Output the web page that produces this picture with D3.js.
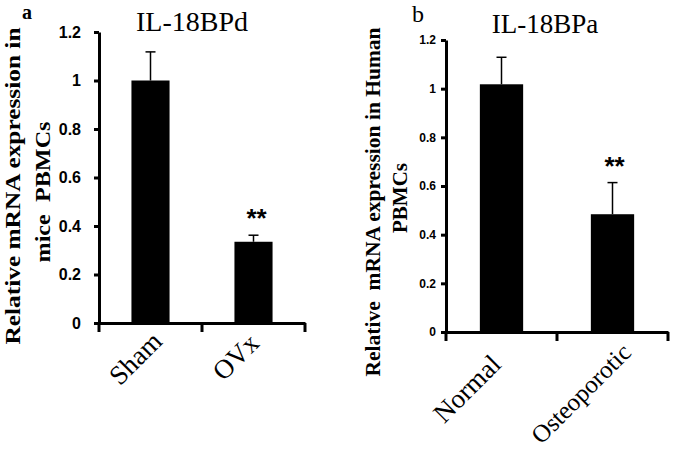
<!DOCTYPE html>
<html><head><meta charset="utf-8">
<script src="https://cdn.jsdelivr.net/npm/d3@7"></script>
<style>
html,body{margin:0;padding:0;background:#fff;}
svg{display:block;}
</style></head>
<body>
<svg id="chart" width="675" height="450"></svg>
<script>
// Panel a data
const catsA = ["Sham", "OVx"];
const valsA = [1.0, 0.335];
const errA = [0.118, 0.027];
const sigA = ["", "**"];
// Panel b data
const catsB = ["Normal", "Osteoporotic"];
const valsB = [1.018, 0.484];
const errB = [0.111, 0.13];
const sigB = ["", "**"];
const yTicks = [0, 0.2, 0.4, 0.6, 0.8, 1.0, 1.2];

const svg = d3.select("#chart");
const serif = "'Liberation Serif','Times New Roman',serif";
const sans = "'Liberation Sans',Arial,sans-serif";

function panel(cfg) {
  const g = svg.append("g");
  const x = d3.scaleBand().domain(cfg.cats).range([cfg.x0, cfg.x1])
    .paddingInner(cfg.pad).paddingOuter(cfg.pad / 2);
  const y = d3.scaleLinear().domain([0, 1.2]).range([cfg.y0, cfg.y1]);

  // bars
  g.selectAll("rect.bar").data(cfg.vals).join("rect")
    .attr("x", (d, i) => x(cfg.cats[i]))
    .attr("y", d => y(d))
    .attr("width", x.bandwidth())
    .attr("height", d => y(0) - y(d))
    .attr("fill", "#000");

  // error bars
  cfg.vals.forEach((v, i) => {
    const cx = x(cfg.cats[i]) + x.bandwidth() / 2;
    g.append("line").attr("x1", cx).attr("x2", cx)
      .attr("y1", y(v)).attr("y2", y(v + cfg.err[i]))
      .attr("stroke", "#000").attr("stroke-width", 1.5);
    g.append("line").attr("x1", cx - 5).attr("x2", cx + 5)
      .attr("y1", y(v + cfg.err[i])).attr("y2", y(v + cfg.err[i]))
      .attr("stroke", "#000").attr("stroke-width", 1.5);
    if (cfg.sig[i]) {
      g.append("text").attr("x", cx + cfg.sigDx).attr("y", y(v + cfg.err[i]) - cfg.sigDy)
        .attr("text-anchor", "middle").attr("font-family", sans)
        .attr("font-weight", "bold").attr("font-size", cfg.sigSize)
        .text(cfg.sig[i]);
    }
  });

  // y axis
  const ya = g.append("g").attr("transform", `translate(${cfg.x0},0)`)
    .call(d3.axisLeft(y).tickValues(yTicks).tickSize(5).tickSizeOuter(0)
      .tickPadding(cfg.tickPad)
      .tickFormat(d => (d === 0 ? "0" : d === 1 ? "1" : d3.format(".1f")(d))));
  ya.select(".domain").attr("stroke-width", 3);
  ya.selectAll(".tick line").attr("stroke-width", 3);
  ya.selectAll(".tick text").attr("font-family", sans).attr("font-weight", "bold")
    .attr("font-size", cfg.tickSize).attr("fill", "#000");

  // x axis
  const xa = g.append("g").attr("transform", `translate(0,${cfg.y0})`)
    .call(d3.axisBottom(x).tickSize(0).tickSizeOuter(0).tickFormat(""));
  xa.select(".domain").attr("stroke-width", 3);
  const mid = (x(cfg.cats[0]) + x.bandwidth() + x(cfg.cats[1])) / 2;
  [cfg.x0, mid, cfg.x1].forEach(bx => {
    xa.append("line").attr("x1", bx).attr("x2", bx).attr("y1", 0).attr("y2", 9)
      .attr("stroke", "#000").attr("stroke-width", 3);
  });
  cfg.cats.forEach((c, i) => {
    const cx = x(c) + x.bandwidth() / 2;
    g.append("text")
      .attr("transform", `translate(${cx + cfg.labDx[i]},${cfg.y0 + cfg.labDy[i]}) rotate(-45)`)
      .attr("text-anchor", "end").attr("font-family", serif)
      .attr("font-size", cfg.labSize[i]).text(c);
  });

  // title
  g.append("text").attr("x", cfg.titleX).attr("y", cfg.titleY)
    .attr("text-anchor", "middle").attr("font-family", serif)
    .attr("font-size", cfg.titleSize).text(cfg.title);
  // panel letter
  g.append("text").attr("x", cfg.letX).attr("y", cfg.letY)
    .attr("font-family", serif).attr("font-weight", cfg.letWeight)
    .attr("font-size", cfg.letSize).text(cfg.letter);
  // y label
  cfg.ylab.forEach((t, i) => {
    const tx = g.append("text")
      .attr("transform", `translate(${t.x},${t.y}) rotate(-90)`)
      .attr("text-anchor", "middle").attr("font-family", serif)
      .attr("font-weight", "bold").attr("font-size", t.size)
      .style("white-space", "pre")
      .text(t.text);
    if (t.len) tx.attr("textLength", t.len).attr("lengthAdjust", "spacingAndGlyphs");
  });
}

panel({
  cats: catsA, vals: valsA, err: errA, sig: sigA,
  x0: 99, x1: 305, y0: 323, y1: 32, pad: 0.63,
  tickPad: 13, tickSize: 16,
  sigDx: 3, sigDy: 8, sigSize: 26,
  labDx: [13, 7], labDy: [20, 22], labSize: [27, 27],
  title: "IL-18BPd", titleX: 192, titleY: 31, titleSize: 28,
  letter: "a", letX: 22, letY: 19, letWeight: "bold", letSize: 20,
  ylab: [{text: "Relative mRNA expression in", x: 19.5, y: 186, len: 317, size: 21},
         {text: "mice  PBMCs", x: 50, y: 192, len: 141, size: 22}]
});

panel({
  cats: catsB, vals: valsB, err: errB, sig: sigB,
  x0: 446, x1: 668, y0: 332, y1: 40, pad: 0.61,
  tickPad: 5, tickSize: 12,
  sigDx: 2, sigDy: 8, sigSize: 26,
  labDx: [1, 20], labDy: [34, 22], labSize: [27, 25],
  title: "IL-18BPa", titleX: 545, titleY: 33, titleSize: 27,
  letter: "b", letX: 412, letY: 22, letWeight: "normal", letSize: 24,
  ylab: [{text: "Relative  mRNA expression in Human", x: 380, y: 202, len: 349, size: 21},
         {text: "PBMCs", x: 407, y: 198, size: 21}]
});
</script>
</body></html>
